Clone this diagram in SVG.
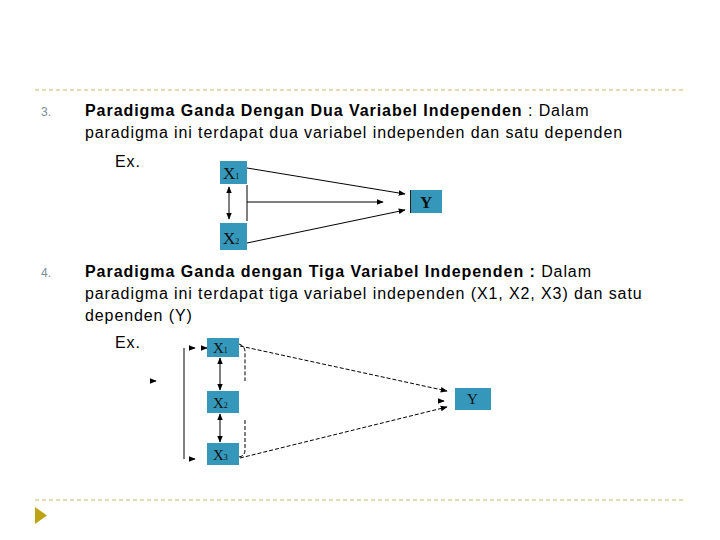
<svg xmlns="http://www.w3.org/2000/svg" width="720" height="540" viewBox="0 0 720 540">
<defs>
<style>
.t{font-family:"Liberation Sans",Arial,sans-serif;font-size:16px;fill:#000;letter-spacing:0.9px}
.b{font-weight:bold;letter-spacing:0.95px}
.num{font-family:"Liberation Sans",Arial,sans-serif;font-size:12px;fill:#7d8c99}
.box{fill:#3598ba}
.lbl{font-family:"Liberation Serif","Times New Roman",serif;font-size:17px;fill:#111}
.lbl2{font-family:"Liberation Serif","Times New Roman",serif;font-size:15px;fill:#111}
.sub{font-size:8px}
.ln{stroke:#000;stroke-width:1;fill:none}
.dl{stroke:#000;stroke-width:1;fill:none;stroke-dasharray:4 2}
.sep{stroke:#c9b768;stroke-width:1;stroke-dasharray:4 3}
</style>
<marker id="ah" viewBox="0 0 10 10" refX="9" refY="5" markerWidth="7" markerHeight="7" orient="auto-start-reverse"><path d="M0,1 L10,5 L0,9 z" fill="#000"/></marker>
</defs>
<line class="sep" x1="35" y1="90" x2="686" y2="90"/>
<line class="sep" x1="35" y1="500" x2="686" y2="500"/>
<polygon points="35,507 35,524 47,515.5" fill="#bca414"/>

<text class="num" x="41" y="116">3.</text>
<text class="t" x="85" y="116"><tspan class="b">Paradigma Ganda Dengan Dua Variabel Independen</tspan> : Dalam</text>
<text class="t" x="85" y="138">paradigma ini terdapat dua variabel independen dan satu dependen</text>
<text class="t" x="115" y="167">Ex.</text>

<text class="num" x="41" y="277">4.</text>
<text class="t" x="85" y="277"><tspan class="b">Paradigma Ganda dengan Tiga Variabel Independen :</tspan> Dalam</text>
<text class="t" x="85" y="299">paradigma ini terdapat tiga variabel independen (X1, X2, X3) dan satu</text>
<text class="t" x="85" y="321">dependen (Y)</text>
<text class="t" x="115" y="348">Ex.</text>

<g id="connectors">
<line class="ln" x1="247" y1="168" x2="405" y2="194" marker-end="url(#ah)"/>
<line class="ln" x1="247" y1="185" x2="247" y2="221"/>
<line class="ln" x1="247" y1="202" x2="383" y2="202" marker-end="url(#ah)"/>
<line class="ln" x1="247" y1="243" x2="405" y2="210" marker-end="url(#ah)"/>
<line class="ln" x1="229" y1="187" x2="229" y2="219" marker-start="url(#ah)" marker-end="url(#ah)"/>

<line class="dl" x1="240" y1="346" x2="447" y2="391" marker-end="url(#ah)"/>
<line class="dl" x1="240" y1="458" x2="447" y2="407" marker-end="url(#ah)"/>
<line class="ln" x1="441" y1="401" x2="444" y2="401" marker-end="url(#ah)"/>
<line class="ln" x1="220" y1="358" x2="220" y2="390" stroke-width="1.5" marker-start="url(#ah)" marker-end="url(#ah)"/>
<line class="ln" x1="220" y1="414" x2="220" y2="442" stroke-width="1.5" marker-start="url(#ah)" marker-end="url(#ah)"/>
<path class="dl" d="M239,344 Q245,346 245,352 L245,381"/>
<path class="dl" d="M245,420 L245,450 Q245,456 239,457"/>
<line class="ln" x1="184" y1="348" x2="184" y2="459"/>
<line class="ln" x1="191" y1="348" x2="195" y2="348" marker-end="url(#ah)"/>
<line class="ln" x1="203" y1="348" x2="207" y2="348" marker-end="url(#ah)"/>
<line class="ln" x1="191" y1="459" x2="195" y2="459" marker-end="url(#ah)"/>
<line class="ln" x1="152" y1="381" x2="156" y2="381" marker-end="url(#ah)"/>
</g>

<g id="n-x1a"><rect class="box" x="220" y="161" width="27" height="23"/><text class="lbl" x="223" y="179">X<tspan class="sub">1</tspan></text></g>
<g id="n-x2a"><rect class="box" x="220" y="223" width="27" height="27"/><text class="lbl" x="223" y="244">X<tspan class="sub">2</tspan></text></g>
<g id="n-ya"><rect class="box" x="410" y="190" width="32" height="23"/><line x1="410.5" y1="190" x2="410.5" y2="213" stroke="#222" stroke-width="1"/><text class="lbl" x="420" y="208" font-weight="bold">Y</text></g>

<g id="n-x1b"><rect class="box" x="207" y="338" width="32" height="19"/><text class="lbl2" x="213" y="353">X<tspan class="sub">1</tspan></text></g>
<g id="n-x2b"><rect class="box" x="207" y="391" width="32" height="22"/><text class="lbl2" x="213" y="408">X<tspan class="sub">2</tspan></text></g>
<g id="n-x3b"><rect class="box" x="207" y="443" width="32" height="22"/><text class="lbl2" x="213" y="460">X<tspan class="sub">3</tspan></text></g>
<g id="n-yb"><rect class="box" x="455" y="388" width="36" height="22"/><text class="lbl2" x="467" y="404">Y</text></g>
</svg>
